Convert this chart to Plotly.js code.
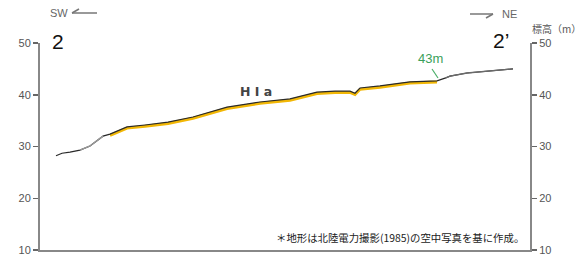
<!DOCTYPE html>
<html><head><meta charset="utf-8">
<script src="https://cdn.plot.ly/plotly-3.0.1.min.js"></script>
<style>html,body{margin:0;padding:0;background:#fff}#c{width:583px;height:261px}</style>
</head><body><div id="c"></div>
<script>
// distance along profile (arbitrary units) and elevation (m)
const distance = [16, 22, 30, 40, 50, 63, 70, 87, 105, 128, 153, 170, 187, 220, 250, 277, 295, 310, 315, 320, 340, 370, 397, 405, 410, 427, 450, 473];
const elevation = [28.2, 28.7, 28.9, 29.3, 30.1, 32.0, 32.4, 33.8, 34.15, 34.7, 35.7, 36.7, 37.6, 38.6, 39.2, 40.5, 40.7, 40.7, 40.3, 41.3, 41.7, 42.5, 42.7, 43.2, 43.6, 44.2, 44.6, 45.0];
const terraceStart = 67, terraceEnd = 398;   // HIa terrace surface (yellow)
const grayA = [35, 63], grayB = [405, 473];
const yTicks = [10, 20, 30, 40, 50];

function seg(a, b) {
  const xs = [], ys = [];
  for (let i = 0; i < distance.length; i++) {
    if (distance[i] >= a && distance[i] <= b) { xs.push(distance[i]); ys.push(elevation[i]); }
  }
  return {xs, ys};
}
const t = seg(terraceStart, terraceEnd);
const gA = seg(grayA[0], grayA[1]);
const gB = seg(grayB[0], grayB[1]);

const traces = [
  {x: t.xs, y: t.ys.map(v => v - 0.25), mode: 'lines', line: {color: '#f2b705', width: 3}, hoverinfo: 'skip'},
  {x: distance, y: elevation, mode: 'lines', line: {color: '#2a2a2a', width: 1.2}, hoverinfo: 'skip'},
  {x: gA.xs, y: gA.ys, mode: 'lines', line: {color: '#9a9a9a', width: 1.4}, hoverinfo: 'skip'},
  {x: gB.xs, y: gB.ys, mode: 'lines', line: {color: '#6a6a6a', width: 1.4}, hoverinfo: 'skip'},
  {x: [0], y: [10], yaxis: 'y2', mode: 'markers', marker: {opacity: 0}, hoverinfo: 'skip'}
];

const tickFont = {family: 'Liberation Sans Narrow, Liberation Sans, sans-serif', size: 11, color: '#555'};
const yax = {
  range: [10, 50], tickvals: yTicks, ticks: 'outside', ticklen: 5, tickwidth: 1.5, tickcolor: '#666',
  showline: true, linecolor: '#888', linewidth: 2, showgrid: false, zeroline: false,
  tickfont: tickFont, fixedrange: true
};
function px2x(px) { return (px - 40) / 490; }
function py2y(py) { return (250 - py) / 207; }
function ann(text, px, py, font) {
  return {text, x: px2x(px), y: py2y(py), xref: 'paper', yref: 'paper', xanchor: 'center', yanchor: 'middle', showarrow: false, font};
}

const layout = {
  width: 583, height: 261,
  margin: {l: 40, r: 53, t: 43, b: 11},
  paper_bgcolor: '#fff', plot_bgcolor: '#fff',
  showlegend: false,
  xaxis: {range: [0, 490], showline: true, linecolor: '#888', linewidth: 2, showticklabels: false, ticks: '', showgrid: false, zeroline: false},
  yaxis: Object.assign({}, yax, {side: 'left'}),
  yaxis2: Object.assign({}, yax, {side: 'right', overlaying: 'y'}),
  shapes: [
    {type: 'line', xref: 'paper', yref: 'paper', x0: px2x(72), x1: px2x(97), y0: py2y(13), y1: py2y(13), line: {color: '#777', width: 1.5}},
    {type: 'line', xref: 'paper', yref: 'paper', x0: px2x(72), x1: px2x(79), y0: py2y(13), y1: py2y(9), line: {color: '#777', width: 1.5}},
    {type: 'line', xref: 'paper', yref: 'paper', x0: px2x(470), x1: px2x(493), y0: py2y(14), y1: py2y(14), line: {color: '#777', width: 1.5}},
    {type: 'line', xref: 'paper', yref: 'paper', x0: px2x(493), x1: px2x(486), y0: py2y(14), y1: py2y(18), line: {color: '#777', width: 1.5}},
    {type: 'line', xref: 'paper', yref: 'paper', x0: px2x(432), x1: px2x(438), y0: py2y(69), y1: py2y(78), line: {color: '#4caf6a', width: 1.2}}
  ],
  annotations: [
    ann('SW', 59, 13, {family: 'Liberation Sans Narrow, sans-serif', size: 11, color: '#666'}),
    ann('NE', 509, 14, {family: 'Liberation Sans Narrow, sans-serif', size: 11, color: '#666'}),
    ann('2', 58, 42, {family: 'Liberation Sans, sans-serif', size: 21, color: '#111'}),
    ann('2’', 501, 41, {family: 'Liberation Sans, sans-serif', size: 21, color: '#111'}),
    ann('標高（m）', 556, 29, {family: 'Noto Sans CJK JP, sans-serif', size: 10, color: '#555'}),
    ann('<b>H I a</b>', 256, 91, {family: 'DejaVu Sans, sans-serif', size: 12.5, color: '#444'}),
    ann('43m', 430, 58, {family: 'Liberation Sans Narrow, sans-serif', size: 13, color: '#3aa05a'}),
    ann('＊地形は北陸電力撮影(1985)の空中写真を基に作成。', 400, 237, {family: 'Noto Sans CJK JP, sans-serif', size: 10.4, color: '#222'})
  ]
};
Plotly.newPlot('c', traces, layout, {displayModeBar: false, staticPlot: true});
</script></body></html>
